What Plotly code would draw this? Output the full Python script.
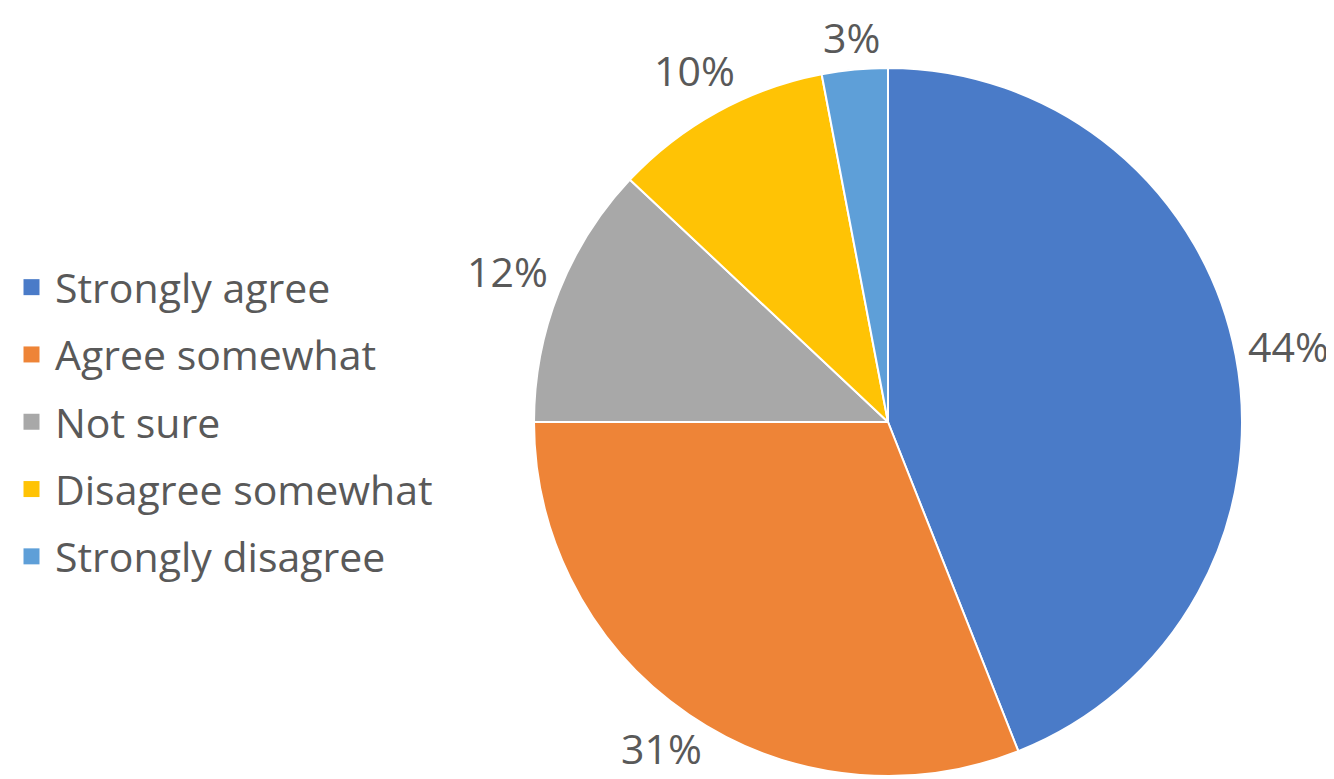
import math
import plotly.graph_objects as go

categories = ["Strongly agree", "Agree somewhat", "Not sure", "Disagree somewhat", "Strongly disagree"]
values = [44, 31, 12, 10, 3]
colors = ["#4A7BC8", "#EE8437", "#A8A8A8", "#FFC305", "#5E9FD8"]

W, H = 1334, 779
OFF = 8  # page body margin offset
cx, cy, r = 888 - OFF, 422 - OFF, 354
TEXT = "#595959"
FONT = "Open Sans"
FS = 41

fig = go.Figure()
fig.add_trace(go.Pie(
    labels=categories,
    values=values,
    sort=False,
    direction="clockwise",
    rotation=0,
    marker=dict(colors=colors, line=dict(color="white", width=2)),
    textinfo="none",
    showlegend=False,
    domain=dict(x=[(cx - r) / W, (cx + r) / W], y=[1 - (cy + r) / H, 1 - (cy - r) / H]),
    hoverinfo="label+percent",
))

# legend entries (square swatches) for each category
for i, (cat, col) in enumerate(zip(categories, colors)):
    fig.add_trace(go.Scatter(
        x=[None], y=[None], mode="markers", name=cat,
        marker=dict(symbol="square", size=20, color=col),
        legendgroup=f"g{i}", showlegend=True, hoverinfo="skip",
    ))

# percentage labels placed just outside each slice's mid-angle
total = sum(values)
cum = 0
annotations = []
max_py = H - OFF - 0.68 * FS - 3  # keep labels fully inside the visible page
for v in values:
    pct = round(v / total * 100)
    txt = f"{pct}%"
    mid = (cum + v / 2) / total * 2 * math.pi
    cum += v
    ux, uy = math.sin(mid), -math.cos(mid)
    w = 0.572 * FS * len(str(pct)) + 0.82 * FS
    h = 0.95 * FS
    ext = abs(ux) * w / 2 + abs(uy) * h / 2
    d = r + 11 + ext
    px, py = cx + d * ux, min(cy + d * uy, max_py)
    annotations.append(dict(
        x=px / W, y=1 - py / H, xref="paper", yref="paper",
        text=txt, showarrow=False, xanchor="center", yanchor="middle",
        font=dict(family=FONT, size=FS, color=TEXT),
    ))

fig.update_layout(
    width=W, height=H,
    margin=dict(l=0, r=0, t=0, b=0),
    paper_bgcolor="white",
    plot_bgcolor="white",
    font=dict(family=FONT, color=TEXT),
    xaxis=dict(visible=False),
    yaxis=dict(visible=False),
    annotations=annotations,
    legend=dict(
        x=0.0, y=1 - 414 / H, xanchor="left", yanchor="middle",
        font=dict(family=FONT, size=FS, color=TEXT),
        itemwidth=37, tracegroupgap=11, itemsizing="trace",
        bgcolor="rgba(0,0,0,0)",
    ),
)

fig.write_html("out.html")
